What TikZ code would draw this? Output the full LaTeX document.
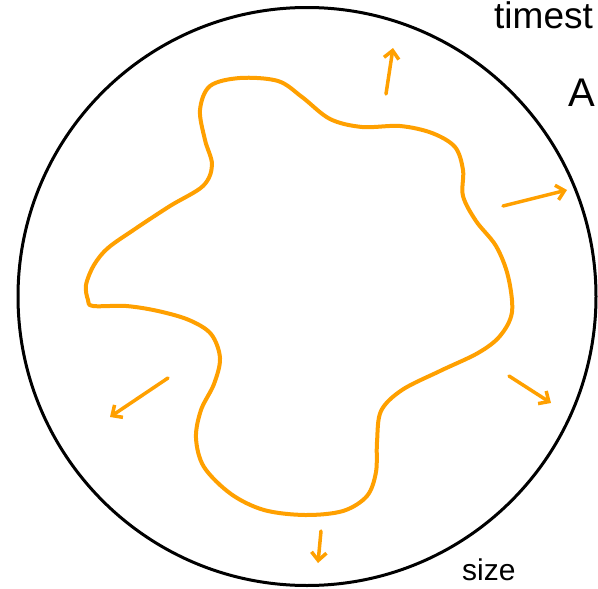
\documentclass[tikz,border=0pt]{standalone}
\usepackage{fontspec}
\setmainfont{Liberation Sans}
\usepackage{tikz}
\usetikzlibrary{arrows.meta}
\definecolor{BlobOrange}{HTML}{FFA000}

\begin{document}
\begin{tikzpicture}[
  x=1pt, y=-1pt,
  rim/.style={draw=black, line width=3pt},
  blob/.style={draw=BlobOrange, line width=4pt, line cap=round, line join=round},
  push/.style={BlobOrange, line width=3.5pt, line cap=round, -{Straight Barb[length=8pt,width=15pt,line width=3.5pt]}},
  scribble/.style={inner sep=0pt, anchor=base west}
]
\useasboundingbox (0,0) rectangle (598,589);
\clip (0,0) rectangle (598,589);

% outer boundary
\draw[rim] (307,296.5) circle[radius=289];

% the growing region
\draw[blob] plot[smooth cycle, tension=0.55] coordinates {
  (88,300) (86,285) (94,265) (108,248) (135,229) (170,206) (203,186)
  (212,165) (205,140) (200,110) (210,86) (240,78) (278,81) (302,97)
  (330,119) (362,127) (400,126) (432,133) (455,147) (463,170) (463,196)
  (476,221) (496,246) (508,276) (512,312) (500,336) (478,353) (440,371)
  (402,390) (381,411) (377,442) (376,472) (367,496) (343,511) (305,515)
  (264,510) (231,494) (204,467) (196,438) (201,410) (214,384) (220,358)
  (211,334) (189,320) (158,311) (126,306) (93,306)};

% outward arrows
\draw[push] (386,94) -- (393,48);
\draw[push] (503,206) -- (567,190);
\draw[push] (509,376) -- (551,403);
\draw[push] (321,531) -- (318,563);
\draw[push] (168,378) -- (110,417);

% labels at the frame
\node[scribble, font=\fontsize{37}{37}\selectfont] (stamp) at (494,28) {timest};
\node[scribble, font=\fontsize{40}{40}\selectfont] (amark) at (568,106) {A};
\node[scribble, font=\fontsize{30}{30}\selectfont] (size) at (462,580) {size};
\end{tikzpicture}
\end{document}
